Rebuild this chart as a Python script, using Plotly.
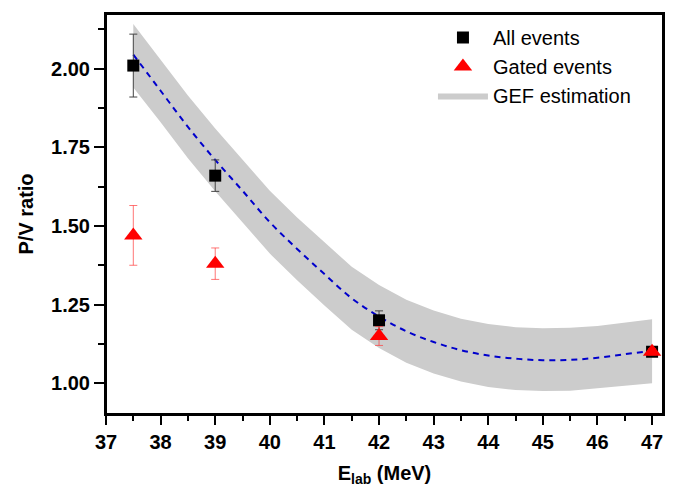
import plotly.graph_objects as go

# Data
energy = [37.5, 39.0, 42.0, 47.0]
all_events = [2.01, 1.66, 1.20, 1.10]
all_err = [0.10, 0.05, 0.03, 0.01]
gated_events = [1.47, 1.38, 1.15, 1.10]
gated_err = [0.095, 0.05, 0.03, 0.01]

gef_x = [37.5, 38.0, 38.5, 39.0, 39.5, 40.0, 40.5, 41.0, 41.5, 42.0,
         42.5, 43.0, 43.5, 44.0, 44.5, 45.0, 45.5, 46.0, 46.5, 47.0]
gef_mid = [2.045, 1.930, 1.815, 1.710, 1.612, 1.512, 1.427, 1.347, 1.270, 1.212,
           1.165, 1.131, 1.105, 1.088, 1.078, 1.073, 1.074, 1.081, 1.092, 1.103]
gef_upper = [2.142, 2.030, 1.915, 1.810, 1.712, 1.612, 1.527, 1.447, 1.370, 1.312,
             1.265, 1.231, 1.205, 1.188, 1.178, 1.175, 1.176, 1.182, 1.192, 1.203]
gef_lower = [1.940, 1.830, 1.715, 1.610, 1.512, 1.412, 1.327, 1.247, 1.170, 1.112,
             1.065, 1.031, 1.005, 0.988, 0.978, 0.975, 0.976, 0.982, 0.992, 1.000]

x_ticks = list(range(37, 48))
y_ticks = [1.00, 1.25, 1.50, 1.75, 2.00]

FONT = "Liberation Sans, Arial, sans-serif"

fig = go.Figure()

fig.add_trace(go.Scatter(
    x=gef_x + gef_x[::-1],
    y=gef_upper + gef_lower[::-1],
    fill="toself", fillcolor="rgb(204,204,204)",
    line=dict(width=0, color="rgb(204,204,204)"),
    mode="lines", name="GEF estimation", legendrank=3, hoverinfo="skip",
))

fig.add_trace(go.Scatter(
    x=gef_x, y=gef_mid, mode="lines",
    line=dict(color="#0000cc", width=2, dash="6px,5px", shape="spline"),
    showlegend=False,
))

fig.add_trace(go.Scatter(
    x=energy, y=all_events, mode="markers", name="All events", legendrank=1,
    marker=dict(symbol="square", size=12, color="black"),
    error_y=dict(type="data", array=all_err, color="#444444", thickness=1, width=4),
))

fig.add_trace(go.Scatter(
    x=energy, y=gated_events, mode="markers", name="Gated events", legendrank=2,
    marker=dict(symbol="triangle-up", size=16, color="red"),
    error_y=dict(type="data", array=gated_err, color="rgba(255,60,60,0.7)", thickness=1, width=4),
))

axis_common = dict(
    showline=True, linecolor="black", linewidth=2, mirror=True,
    ticks="outside", tickcolor="black", tickwidth=2,
    showgrid=False, zeroline=False,
    tickfont=dict(family=FONT, size=20, color="black"),
)

fig.update_layout(
    width=683, height=499,
    margin=dict(l=98, r=28, t=4, b=93),
    plot_bgcolor="white", paper_bgcolor="white",
    showlegend=True,
    legend=dict(
        x=0.587, y=0.99, xanchor="left", yanchor="top",
        bgcolor="rgba(0,0,0,0)", borderwidth=0,
        font=dict(family=FONT, size=20, color="black"),
        itemwidth=50,
    ),
    xaxis=dict(
        range=[37, 47.2], tickvals=x_ticks, ticktext=["<b>%d</b>" % v for v in x_ticks],
        ticklen=9,
        minor=dict(dtick=0.5, tick0=37, ticks="outside", ticklen=5, tickwidth=2, tickcolor="black"),
        title=dict(text="<b>E<sub>lab</sub> (MeV)</b>", font=dict(family=FONT, size=20, color="black"), standoff=14),
        **axis_common,
    ),
    yaxis=dict(
        range=[0.902, 2.174], tickvals=y_ticks, ticktext=["<b>%.2f</b>" % v for v in y_ticks],
        ticklen=10,
        minor=dict(dtick=0.125, tick0=1.0, ticks="outside", ticklen=6, tickwidth=2, tickcolor="black"),
        title=dict(text="<b>P/V ratio</b>", font=dict(family=FONT, size=20, color="black"), standoff=12),
        **axis_common,
    ),
    shapes=[dict(type="rect", xref="paper", yref="paper", x0=0, x1=1, y0=0, y1=1,
                 line=dict(color="black", width=2), fillcolor="rgba(0,0,0,0)", layer="above")],
)

fig.write_html("out.html")
